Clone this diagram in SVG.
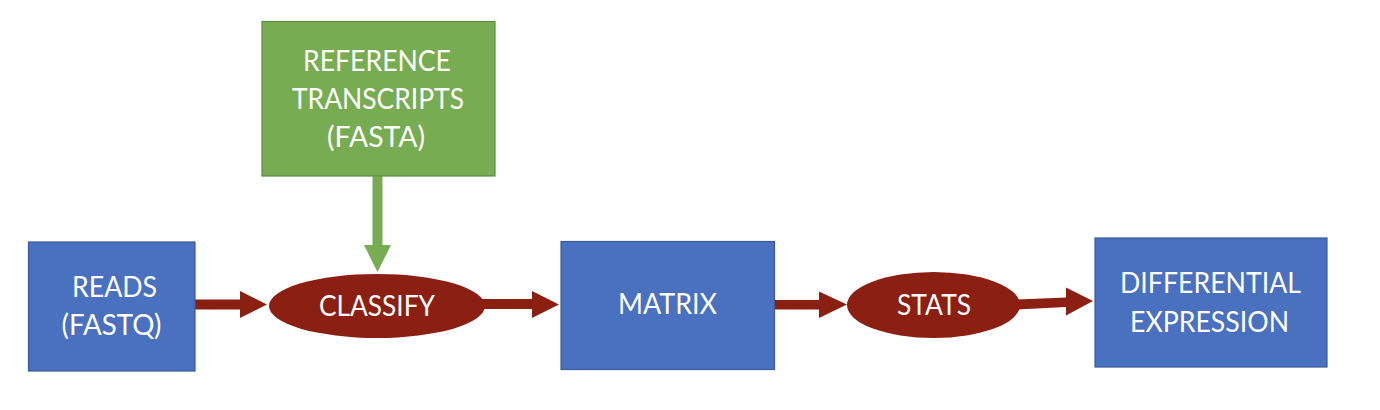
<svg xmlns="http://www.w3.org/2000/svg" width="1380" height="410" viewBox="0 0 1380 410">
<style>
.box{fill:#4A70C0;stroke:#3A5A9C;stroke-width:1.2}
.green{fill:#77AC52;stroke:#5E8C40;stroke-width:1.2}
.proc{fill:#8B1F12}
.arr{fill:#8B1F12}
.garr{fill:#77AC52}
text{font-family:Lato,"Open Sans","Liberation Sans",sans-serif;font-size:29px;fill:#ffffff;text-anchor:middle}
</style>
<rect width="1380" height="410" fill="#ffffff"/>
<g id="connectors">
<polygon class="garr" points="372.5,176 382.5,176 382.5,245 391,245 377.5,272 364,245 372.5,245"/>
<polygon class="arr" points="195,299.5 240,299.5 240,291 267,304.5 240,318 240,309.5 195,309.5"/>
<polygon class="arr" points="482,299 532,299 532,291 559,304.5 532,318 532,309 482,309"/>
<polygon class="arr" points="775,300 819,300 819,291.5 847,304.5 819,318 819,309.5 775,309.5"/>
<polygon class="arr" points="1017,299.5 1066,297.5 1066,287.5 1093,301 1066,315.5 1066,307 1017,309.5"/>
</g>
<g id="reference">
<rect class="green" x="262" y="21.5" width="233" height="154.5"/>
<text x="377" y="71" textLength="148" lengthAdjust="spacingAndGlyphs">REFERENCE</text>
<text x="378" y="109" textLength="172" lengthAdjust="spacingAndGlyphs">TRANSCRIPTS</text>
<text x="376" y="147" textLength="98" lengthAdjust="spacingAndGlyphs">(FASTA)</text>
</g>
<g id="reads">
<rect class="box" x="28.5" y="242" width="166.5" height="129"/>
<text x="114.5" y="297" textLength="85" lengthAdjust="spacingAndGlyphs">READS</text>
<text x="111.5" y="335" textLength="100" lengthAdjust="spacingAndGlyphs">(FASTQ)</text>
</g>
<g id="classify">
<ellipse class="proc" cx="377" cy="306" rx="108" ry="32"/>
<text x="377" y="316" textLength="116" lengthAdjust="spacingAndGlyphs">CLASSIFY</text>
</g>
<g id="matrix">
<rect class="box" x="561" y="241.5" width="213.5" height="128"/>
<text x="667.5" y="314" textLength="99" lengthAdjust="spacingAndGlyphs">MATRIX</text>
</g>
<g id="stats">
<ellipse class="proc" cx="933.5" cy="305" rx="86.5" ry="33"/>
<text x="934" y="315" textLength="74" lengthAdjust="spacingAndGlyphs">STATS</text>
</g>
<g id="diff">
<rect class="box" x="1095" y="238" width="232" height="129"/>
<text x="1210.5" y="293" textLength="181" lengthAdjust="spacingAndGlyphs">DIFFERENTIAL</text>
<text x="1209.5" y="331.5" textLength="159" lengthAdjust="spacingAndGlyphs">EXPRESSION</text>
</g>
</svg>
